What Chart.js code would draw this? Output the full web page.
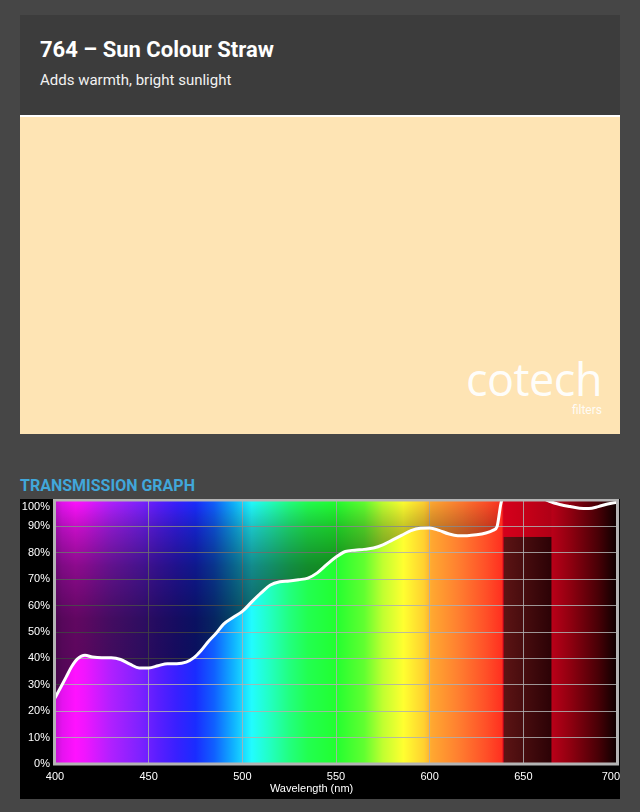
<!DOCTYPE html>
<html>
<head>
<meta charset="utf-8">
<script src="https://cdn.jsdelivr.net/npm/chart.js@4.4.1/dist/chart.umd.min.js"></script>
<style>
  html, body { margin: 0; padding: 0; }
  body { width: 640px; height: 812px; background: #464646; position: relative; overflow: hidden; font-family: Roboto, sans-serif; }
  .head { position: absolute; left: 20px; top: 15px; width: 600px; height: 100px; background: #3c3c3c; }
  .head h1 { position: absolute; left: 20px; top: 24px; margin: 0; font-size: 22px; line-height: 22px; font-weight: 700; color: #fff; white-space: nowrap; }
  .head p { position: absolute; left: 20px; top: 58px; margin: 0; font-size: 15px; line-height: 15px; color: #f2f2f2; white-space: nowrap; }
  .rule { position: absolute; left: 20px; top: 115px; width: 600px; height: 2px; background: #fff; }
  .swatch { position: absolute; left: 20px; top: 117px; width: 600px; height: 317px; background: #fee4b4; }
  .logo { position: absolute; right: 38px; top: 357px; font-family: "Open Sans", sans-serif; font-weight: 400; font-size: 45px; line-height: 44px; letter-spacing: -0.5px; color: rgba(255,255,255,0.95); }
  .logo-sub { position: absolute; right: 38px; top: 404px; font-family: Roboto, sans-serif; font-size: 12px; line-height: 12px; color: rgba(255,255,255,0.9); }
  .graph-title { position: absolute; left: 20px; top: 478px; margin: 0; font-size: 16px; line-height: 16px; font-weight: 700; color: #41a7da; }
  .chart-box { position: absolute; left: 20px; top: 499px; width: 600px; height: 300px; background: #000; }
</style>
</head>
<body>
  <div class="head">
    <h1>764 – Sun Colour Straw</h1>
    <p>Adds warmth, bright sunlight</p>
  </div>
  <div class="rule"></div>
  <div class="swatch"></div>
  <div class="logo">cotech</div>
  <div class="logo-sub">filters</div>
  <h3 class="graph-title">TRANSMISSION GRAPH</h3>
  <div class="chart-box"><canvas id="graph" width="600" height="300"></canvas></div>

<script>
// ----- Data -----
const wavelengths = [400, 403, 406, 409, 412, 416, 420, 425, 430, 435, 440, 445, 450, 455, 460, 465, 470, 474, 478, 482,
  486, 490, 495, 500, 505, 510, 515, 520, 525, 530, 535, 540, 545, 550, 555, 560, 565, 570, 575, 580,
  585, 590, 595, 600, 605, 610, 615, 620, 625, 630, 634, 636, 638, 640, 645, 650, 655, 660, 664, 670,
  675, 680, 685, 690, 695, 700];
const transmission = [25, 29, 33, 37, 39.8, 41.2, 40.5, 40.2, 40.2, 39.6, 37.8, 36.4, 36.4, 37.2, 38, 38, 38.6, 40.2, 43, 46.5,
  49.5, 53, 55.5, 57.8, 61.4, 64.8, 67.8, 69, 69.3, 69.8, 70.4, 72.4, 75.5, 78.4, 80.5, 81, 81.3, 81.8, 83, 84.8,
  86.6, 88.4, 89.3, 89.4, 88.5, 87.2, 86.5, 86.5, 86.8, 87.5, 88.6, 90, 98.5, 103, 106, 106, 104, 101, 99.5, 98.2,
  97.5, 96.9, 96.8, 97.5, 98.5, 99.2];

const xTicks = [400, 450, 500, 550, 600, 650, 700];
const yTicks = [0, 10, 20, 30, 40, 50, 60, 70, 80, 90, 100];

// spectrum behind the plot (nm -> colour)
const spectrumNm = [400, 404, 411, 416, 430, 445, 455, 465, 475, 485, 495, 505, 515, 525, 535, 550, 565, 575, 586, 597,
  601, 615, 630, 638.5, 639.5, 650, 664.5, 665.5, 675, 690, 700];
const spectrumColors = ["#c414d2", "#e612f0", "#ff12ff", "#f015ff", "#b020ff", "#7f22ff", "#5a1eff", "#3820ff", "#1a2cff", "#1060ff",
  "#10b0ff", "#22fcff", "#22ffc0", "#22ff80", "#22ff50", "#22ff30", "#60ff30", "#c0ff30", "#ffff30", "#ffd030",
  "#ffa830", "#ff8030", "#ff5028", "#ff3020", "#d4001c", "#c80018", "#b00016", "#b80018", "#900010", "#480006", "#0c0000"];
// dark band in the red part of the spectrum
const darkBandNm = [639.5, 665];
const darkBandTop = 86;
const darkBandColors = ["#5c1414", "#2c0206"];

// ----- Plugins -----
const spectrumPlugin = {
  id: "spectrum",
  beforeDraw(chart) {
    const { ctx, chartArea: a, scales: { x, y } } = chart;
    const g = ctx.createLinearGradient(x.getPixelForValue(400), 0, x.getPixelForValue(700), 0);
    spectrumNm.forEach((nm, i) => g.addColorStop((nm - 400) / 300, spectrumColors[i]));
    ctx.save();
    ctx.fillStyle = g;
    ctx.fillRect(a.left, a.top, a.right - a.left, a.bottom - a.top);

    const bx0 = x.getPixelForValue(darkBandNm[0]);
    const bx1 = x.getPixelForValue(darkBandNm[1]);
    const by = y.getPixelForValue(darkBandTop);
    const bg = ctx.createLinearGradient(bx0, 0, bx1, 0);
    bg.addColorStop(0, darkBandColors[0]);
    bg.addColorStop(1, darkBandColors[1]);
    ctx.fillStyle = bg;
    ctx.fillRect(bx0, by, bx1 - bx0, a.bottom - by);
    ctx.restore();

    // nudge first / last tick labels so they stay inside the black box
    const yItems = chart.scales.y.getLabelItems();
    const top = yItems.find(it => it.label === "100%");
    if (top) { top.options.textBaseline = "top"; top.options.translation[1] = a.top + 1; }
    const xItems = chart.scales.x.getLabelItems();
    const last = xItems.find(it => it.label === "700");
    if (last) { last.options.textAlign = "right"; last.options.translation[0] = a.right + 3; }
  },
  afterDatasetsDraw(chart) {
    const { ctx, chartArea: a } = chart;
    ctx.save();
    ctx.strokeStyle = "#b4b4b4";
    ctx.lineWidth = 3;
    ctx.strokeRect(a.left - 0.5, a.top, a.right - a.left + 1, a.bottom - a.top);
    ctx.restore();
  }
};

const shade = (context) => {
  const { chart } = context;
  const { ctx, chartArea } = chart;
  if (!chartArea) return "rgba(0,0,0,0.5)";
  const y = chart.scales.y;
  const g = ctx.createLinearGradient(0, y.getPixelForValue(100), 0, y.getPixelForValue(0));
  g.addColorStop(0, "rgba(0,0,0,0)");
  g.addColorStop(0.1, "rgba(0,0,0,0.22)");
  g.addColorStop(0.25, "rgba(0,0,0,0.45)");
  g.addColorStop(0.45, "rgba(0,0,0,0.62)");
  g.addColorStop(1, "rgba(0,0,0,0.68)");
  return g;
};

const tickFont = { family: "'Liberation Sans', Arial, sans-serif", size: 11 };

new Chart(document.getElementById("graph"), {
  type: "line",
  data: {
    datasets: [{
      label: "Transmission",
      data: wavelengths.map((nm, i) => ({ x: nm, y: transmission[i] })),
      borderColor: "#ffffff",
      borderWidth: 3,
      pointRadius: 0,
      cubicInterpolationMode: "monotone",
      fill: "end",
      backgroundColor: shade,
      clip: 0
    }]
  },
  plugins: [spectrumPlugin],
  options: {
    responsive: false,
    animation: false,
    events: [],
    layout: { padding: { top: 1, right: 3, left: 0, bottom: 0 } },
    plugins: { legend: { display: false }, tooltip: { enabled: false } },
    scales: {
      x: {
        type: "linear",
        min: 400,
        max: 700,
        afterBuildTicks: (s) => { s.ticks = xTicks.map(v => ({ value: v })); },
        ticks: { color: "#ffffff", font: tickFont, padding: 6, maxRotation: 0 },
        grid: { color: "rgba(175,175,175,0.85)", lineWidth: 1, drawTicks: false },
        border: { display: false },
        // trailing spaces keep the title left of the plot centre, as in the original
        title: { display: true, text: "Wavelength (nm)" + "\u00a0".repeat(16), color: "#ffffff", font: tickFont, padding: { top: 0, bottom: 3 } },
        afterFit: (s) => { s.height = 35; s.paddingLeft = 0; s.paddingRight = 0; }
      },
      y: {
        min: 0,
        max: 100,
        afterBuildTicks: (s) => { s.ticks = yTicks.map(v => ({ value: v })); },
        ticks: { color: "#ffffff", font: tickFont, padding: 5, callback: (v) => v + "%" },
        grid: { color: "rgba(175,175,175,0.85)", lineWidth: 1, drawTicks: false },
        border: { display: false },
        afterFit: (s) => { s.width = 35; s.paddingTop = 0; s.paddingBottom = 0; }
      }
    }
  }
});
</script>
</body>
</html>
